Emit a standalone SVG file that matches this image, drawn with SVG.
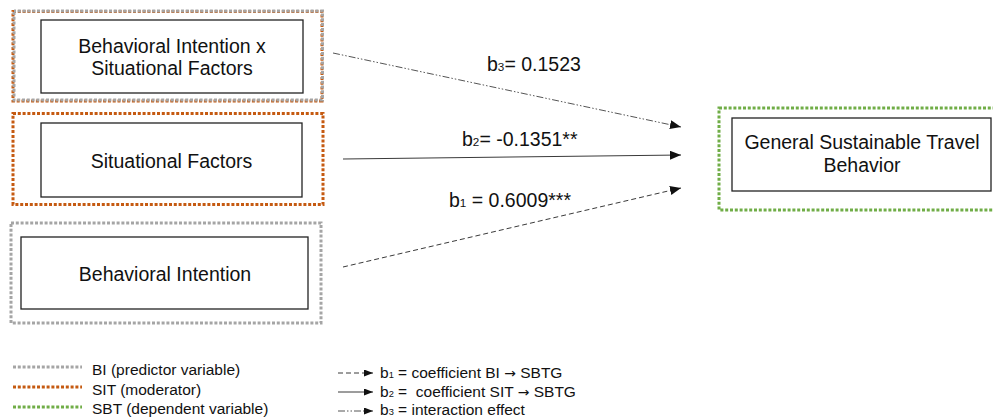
<svg xmlns="http://www.w3.org/2000/svg" width="993" height="418" viewBox="0 0 993 418">
<style>
text{font-family:"Liberation Sans",Arial,sans-serif;fill:#111;white-space:pre;}
.node{font-size:19.5px;text-anchor:middle;}
.lbl{font-size:19.5px;}
.leg{font-size:15.5px;}
.sub{font-size:0.6em;}
.arr{font-family:"DejaVu Sans",sans-serif;font-size:0.9em;}
.inner{fill:#fff;stroke:#222;stroke-width:1.3;}
.dot{fill:none;stroke-width:3;stroke-dasharray:3 1.8;}
.gray{stroke:#A5A5A5;}
.orange{stroke:#C55A11;}
.green{stroke:#70AD47;}
.edge{fill:none;stroke:#3a3a3a;stroke-width:1;}
.dash{stroke-dasharray:5 3;}
.dashdot{stroke-dasharray:7 2 1.5 2 1.5 2;stroke:#555;}
</style>
<defs>
<marker id="ah" markerUnits="userSpaceOnUse" markerWidth="12" markerHeight="10" refX="11" refY="4.5" orient="auto">
<path d="M0,0 L11,4.5 L0,9 z" fill="#111"/>
</marker>
<marker id="ahs" markerUnits="userSpaceOnUse" markerWidth="10" markerHeight="8" refX="9" refY="3.5" orient="auto">
<path d="M0,0 L9,3.5 L0,7 z" fill="#111"/>
</marker>
</defs>
<rect width="993" height="418" fill="#fff"/>
<g id="connectors">
<path class="edge dashdot" d="M333 53 L681 127" marker-end="url(#ah)"/>
<path class="edge" d="M343 159 L681 155" marker-end="url(#ah)"/>
<path class="edge dash" d="M343 267 L681 188" marker-end="url(#ah)"/>
<text class="lbl" x="487" y="71">b<tspan class="sub">3</tspan>= 0.1523</text>
<text class="lbl" x="462" y="146">b<tspan class="sub">2</tspan>= -0.1351**</text>
<text class="lbl" x="449" y="207">b<tspan class="sub">1</tspan> = 0.6009***</text>
</g>
<g id="node-bixsit">
<rect class="dot orange" x="13" y="11.5" width="309" height="89.5"/>
<rect class="dot gray" x="14" y="11" width="308.5" height="89" stroke-dashoffset="1"/>
<rect class="inner" x="41" y="20" width="262" height="73"/>
<text class="node" x="172" y="52.5">Behavioral Intention x</text>
<text class="node" x="172" y="74.5">Situational Factors</text>
</g>
<g id="node-sit">
<rect class="dot orange" x="13" y="113.5" width="310" height="91"/>
<rect class="inner" x="41" y="123" width="261" height="74"/>
<text class="node" x="171.5" y="168">Situational Factors</text>
</g>
<g id="node-bi">
<rect class="dot gray" x="11" y="223" width="310" height="100"/>
<rect class="inner" x="21" y="237" width="287" height="72"/>
<text class="node" x="165" y="281">Behavioral Intention</text>
</g>
<g id="node-sbt">
<rect class="dot green" x="719" y="108" width="280" height="102"/>
<rect class="inner" x="732" y="118" width="259" height="73"/>
<text class="node" x="862" y="149">General Sustainable Travel</text>
<text class="node" x="862" y="172">Behavior</text>
</g>
<g id="legend">
<line class="dot gray" x1="13" y1="367" x2="82" y2="367"/>
<line class="dot orange" x1="13" y1="387" x2="82" y2="387"/>
<line class="dot green" x1="13" y1="407" x2="82" y2="407"/>
<text class="leg" x="92" y="375">BI (predictor variable)</text>
<text class="leg" x="92" y="395">SIT (moderator)</text>
<text class="leg" x="92" y="414">SBT (dependent variable)</text>
<path class="edge dash" d="M338 373 L373 373" stroke-dasharray="3 2" marker-end="url(#ahs)"/>
<path class="edge" d="M338 392 L373 392" marker-end="url(#ahs)"/>
<path class="edge dashdot" d="M338 411 L373 411" marker-end="url(#ahs)"/>
<text class="leg" x="380" y="378">b<tspan class="sub">1</tspan> = coefficient BI <tspan class="arr">→</tspan> SBTG</text>
<text class="leg" x="380" y="397">b<tspan class="sub">2</tspan> =  coefficient SIT <tspan class="arr">→</tspan> SBTG</text>
<text class="leg" x="380" y="415">b<tspan class="sub">3</tspan> = interaction effect</text>
</g>
</svg>
